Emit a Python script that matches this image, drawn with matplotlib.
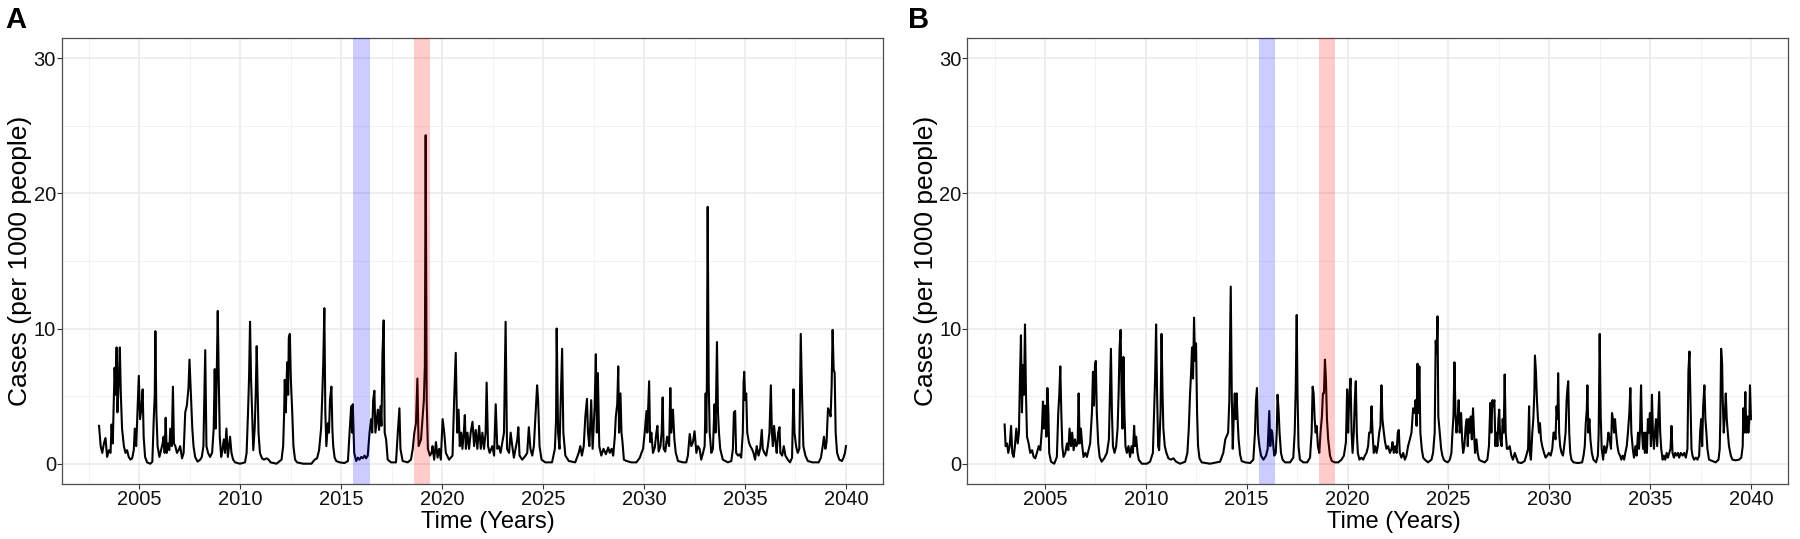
import matplotlib
matplotlib.use("Agg")
import matplotlib.pyplot as plt
from matplotlib.ticker import FixedLocator

plt.rcParams['font.family'] = ['Liberation Sans', 'DejaVu Sans']

# ---------------- data (year, cases per 1000 people) ----------------
series_a = [
    (2003.00, 2.8), (2003.08, 1.3), (2003.16, 0.8), (2003.24, 1.5), (2003.32, 1.9), (2003.40, 0.5), (2003.49, 1.0),
    (2003.57, 0.8), (2003.62, 2.9), (2003.68, 1.5), (2003.77, 7.1), (2003.82, 5.1), (2003.87, 8.6), (2003.91, 3.8),
    (2003.98, 6.3), (2004.03, 8.6), (2004.08, 5.1), (2004.14, 2.6), (2004.23, 1.3), (2004.31, 0.8), (2004.39, 1.0),
    (2004.47, 0.5), (2004.56, 0.3), (2004.64, 0.4), (2004.72, 1.0), (2004.77, 2.6), (2004.84, 1.3), (2004.90, 3.8),
    (2004.97, 6.5), (2005.03, 3.3), (2005.10, 4.1), (2005.16, 5.5), (2005.21, 2.0), (2005.28, 0.5), (2005.38, 0.1),
    (2005.54, 0.0), (2005.64, 0.15), (2005.71, 3.3), (2005.76, 5.1), (2005.79, 9.8), (2005.84, 3.8), (2005.90, 1.3),
    (2005.99, 0.5), (2006.07, 1.0), (2006.15, 1.5), (2006.20, 2.0), (2006.25, 0.8), (2006.30, 3.4), (2006.35, 0.8),
    (2006.41, 1.5), (2006.48, 1.0), (2006.53, 2.6), (2006.60, 1.3), (2006.66, 5.7), (2006.71, 1.5), (2006.78, 1.3),
    (2006.86, 0.8), (2006.94, 1.0), (2007.02, 1.3), (2007.11, 0.4), (2007.19, 0.8), (2007.27, 3.8), (2007.35, 4.3),
    (2007.43, 5.6), (2007.48, 7.7), (2007.55, 5.1), (2007.62, 2.6), (2007.68, 1.3), (2007.76, 0.5), (2007.88, 0.15),
    (2008.01, 0.3), (2008.09, 0.5), (2008.17, 1.3), (2008.26, 8.4), (2008.32, 1.3), (2008.40, 0.8), (2008.50, 0.5),
    (2008.60, 0.8), (2008.68, 2.6), (2008.73, 7.0), (2008.78, 2.6), (2008.83, 6.6), (2008.88, 11.3), (2008.93, 6.3),
    (2008.98, 2.0), (2009.05, 0.5), (2009.11, 1.0), (2009.18, 1.8), (2009.24, 0.8), (2009.31, 2.6), (2009.38, 0.5),
    (2009.44, 1.3), (2009.49, 2.0), (2009.56, 0.8), (2009.64, 0.3), (2009.74, 0.1), (2009.98, 0.0), (2010.23, 0.1),
    (2010.31, 0.8), (2010.38, 3.8), (2010.43, 6.3), (2010.48, 10.5), (2010.53, 6.3), (2010.58, 3.8), (2010.64, 1.0),
    (2010.71, 2.6), (2010.76, 5.1), (2010.81, 8.7), (2010.86, 5.1), (2010.90, 2.3), (2010.97, 0.8), (2011.07, 0.4),
    (2011.17, 0.3), (2011.30, 0.4), (2011.40, 0.3), (2011.50, 0.1), (2011.79, 0.0), (2012.04, 0.3), (2012.12, 1.3),
    (2012.17, 3.8), (2012.20, 6.2), (2012.25, 3.8), (2012.32, 7.5), (2012.37, 5.1), (2012.40, 9.3), (2012.45, 9.6),
    (2012.50, 6.3), (2012.57, 3.8), (2012.63, 1.3), (2012.71, 0.3), (2012.81, 0.1), (2013.11, 0.0), (2013.52, 0.0),
    (2013.68, 0.3), (2013.80, 0.4), (2013.90, 1.0), (2014.00, 2.6), (2014.06, 5.1), (2014.11, 7.6), (2014.16, 11.5),
    (2014.21, 3.8), (2014.26, 1.3), (2014.34, 3.0), (2014.39, 2.3), (2014.44, 4.7), (2014.51, 5.7), (2014.56, 2.5),
    (2014.60, 1.3), (2014.67, 0.45), (2014.75, 0.2), (2014.92, 0.1), (2015.16, 0.05), (2015.33, 0.2), (2015.41, 2.3),
    (2015.49, 4.25), (2015.54, 2.3), (2015.57, 4.4), (2015.64, 0.8), (2015.74, 0.2), (2015.82, 0.45), (2015.90, 0.3),
    (2015.99, 0.5), (2016.07, 0.4), (2016.15, 0.6), (2016.23, 0.4), (2016.31, 0.6), (2016.40, 2.3), (2016.48, 3.3),
    (2016.53, 2.3), (2016.58, 4.7), (2016.64, 5.4), (2016.69, 2.3), (2016.76, 3.3), (2016.81, 4.0), (2016.87, 2.5),
    (2016.94, 4.25), (2016.99, 2.8), (2017.04, 8.1), (2017.10, 10.6), (2017.15, 2.3), (2017.22, 1.8), (2017.30, 0.3),
    (2017.47, 0.1), (2017.71, 0.1), (2017.80, 2.3), (2017.88, 4.1), (2017.93, 1.1), (2018.04, 0.2), (2018.29, 0.1),
    (2018.45, 0.3), (2018.54, 1.1), (2018.62, 2.3), (2018.70, 3.0), (2018.77, 6.3), (2018.83, 1.3), (2018.95, 1.8),
    (2019.03, 3.5), (2019.09, 4.7), (2019.14, 7.2), (2019.18, 24.3), (2019.23, 4.7), (2019.29, 1.1), (2019.39, 0.6),
    (2019.47, 0.8), (2019.52, 1.3), (2019.60, 0.3), (2019.69, 1.6), (2019.77, 0.45), (2019.85, 1.1), (2019.93, 0.3),
    (2020.02, 3.3), (2020.10, 2.3), (2020.18, 0.8), (2020.34, 0.3), (2020.51, 0.6), (2020.59, 4.7), (2020.67, 8.2),
    (2020.74, 2.3), (2020.81, 4.0), (2020.87, 1.3), (2020.94, 2.3), (2021.00, 1.1), (2021.07, 2.3), (2021.12, 3.6),
    (2021.17, 1.1), (2021.25, 2.3), (2021.33, 1.1), (2021.41, 2.3), (2021.50, 3.1), (2021.58, 1.3), (2021.66, 2.5),
    (2021.74, 1.1), (2021.83, 2.8), (2021.91, 1.1), (2021.99, 2.3), (2022.07, 1.1), (2022.15, 2.3), (2022.20, 6.0),
    (2022.27, 1.3), (2022.35, 0.8), (2022.48, 1.3), (2022.57, 0.6), (2022.65, 4.4), (2022.73, 1.1), (2022.81, 1.3),
    (2022.89, 0.8), (2022.98, 1.6), (2023.06, 2.3), (2023.14, 10.5), (2023.21, 1.1), (2023.31, 0.8), (2023.39, 2.3),
    (2023.47, 1.3), (2023.55, 0.45), (2023.63, 1.1), (2023.72, 1.8), (2023.77, 2.7), (2023.83, 0.6), (2023.96, 0.3),
    (2024.13, 0.6), (2024.21, 0.8), (2024.29, 2.7), (2024.37, 1.1), (2024.46, 0.6), (2024.54, 1.3), (2024.62, 3.5),
    (2024.70, 5.8), (2024.75, 4.7), (2024.82, 1.3), (2024.92, 0.3), (2025.11, 0.1), (2025.44, 0.1), (2025.58, 1.1),
    (2025.64, 3.3), (2025.67, 10.0), (2025.74, 2.3), (2025.81, 1.1), (2025.87, 4.7), (2025.94, 8.5), (2026.00, 2.3),
    (2026.10, 0.6), (2026.27, 0.2), (2026.59, 0.1), (2026.76, 0.8), (2026.84, 1.3), (2026.92, 0.6), (2027.01, 1.3),
    (2027.09, 3.5), (2027.17, 4.8), (2027.22, 2.3), (2027.29, 1.3), (2027.38, 4.7), (2027.45, 1.1), (2027.55, 4.25),
    (2027.61, 8.1), (2027.66, 2.3), (2027.71, 6.7), (2027.78, 1.3), (2027.88, 0.6), (2027.99, 1.1), (2028.11, 0.7),
    (2028.22, 1.2), (2028.30, 0.8), (2028.39, 1.1), (2028.47, 0.6), (2028.55, 2.0), (2028.60, 3.5), (2028.67, 4.4),
    (2028.72, 7.2), (2028.76, 2.3), (2028.83, 5.2), (2028.88, 2.3), (2028.93, 1.6), (2029.00, 0.3), (2029.13, 0.2),
    (2029.37, 0.1), (2029.62, 0.1), (2029.79, 0.45), (2029.87, 0.8), (2029.95, 1.1), (2030.03, 2.3), (2030.12, 3.9),
    (2030.16, 2.3), (2030.25, 6.1), (2030.30, 1.6), (2030.36, 2.3), (2030.44, 0.8), (2030.53, 1.2), (2030.61, 2.3),
    (2030.66, 2.8), (2030.72, 0.9), (2030.81, 1.3), (2030.87, 2.3), (2030.92, 4.9), (2030.97, 1.1), (2031.05, 0.9),
    (2031.14, 2.0), (2031.24, 1.3), (2031.30, 5.6), (2031.35, 2.3), (2031.43, 4.0), (2031.50, 1.8), (2031.57, 0.8),
    (2031.68, 0.2), (2031.93, 0.1), (2032.09, 0.1), (2032.17, 0.6), (2032.26, 2.2), (2032.34, 1.3), (2032.42, 1.6),
    (2032.50, 2.4), (2032.59, 0.8), (2032.67, 1.3), (2032.75, 1.1), (2032.83, 0.3), (2032.92, 0.8), (2033.00, 1.3),
    (2033.05, 5.2), (2033.08, 2.3), (2033.11, 6.0), (2033.15, 19.0), (2033.20, 6.0), (2033.25, 2.3), (2033.33, 0.8),
    (2033.41, 1.1), (2033.49, 4.4), (2033.54, 2.3), (2033.57, 5.2), (2033.61, 9.0), (2033.66, 3.8), (2033.71, 2.3),
    (2033.77, 1.1), (2033.90, 0.3), (2034.15, 0.1), (2034.32, 0.2), (2034.40, 1.1), (2034.45, 3.8), (2034.51, 3.9),
    (2034.56, 0.8), (2034.65, 0.6), (2034.73, 0.7), (2034.81, 0.45), (2034.89, 2.3), (2034.93, 6.0), (2034.96, 6.8),
    (2035.01, 4.7), (2035.06, 5.2), (2035.11, 2.3), (2035.19, 1.6), (2035.26, 1.3), (2035.34, 1.1), (2035.42, 0.8),
    (2035.50, 0.3), (2035.58, 1.3), (2035.67, 0.6), (2035.75, 1.1), (2035.83, 2.5), (2035.88, 1.1), (2035.96, 0.8),
    (2036.05, 0.6), (2036.13, 1.3), (2036.21, 2.3), (2036.28, 5.8), (2036.33, 2.3), (2036.38, 1.3), (2036.44, 2.8),
    (2036.51, 1.6), (2036.57, 0.8), (2036.64, 2.3), (2036.71, 2.7), (2036.75, 0.8), (2036.84, 0.6), (2036.92, 1.3),
    (2037.00, 0.6), (2037.12, 0.3), (2037.23, 0.1), (2037.33, 0.45), (2037.40, 5.5), (2037.45, 2.3), (2037.53, 1.3),
    (2037.61, 0.8), (2037.69, 1.1), (2037.76, 9.6), (2037.83, 4.7), (2037.89, 1.3), (2037.99, 0.6), (2038.11, 0.2),
    (2038.35, 0.1), (2038.65, 0.1), (2038.76, 0.45), (2038.85, 1.3), (2038.91, 2.0), (2038.98, 1.1), (2039.04, 1.6),
    (2039.11, 4.1), (2039.18, 3.9), (2039.24, 3.5), (2039.29, 5.7), (2039.34, 9.9), (2039.39, 7.0), (2039.44, 6.7),
    (2039.49, 2.3), (2039.56, 0.8), (2039.67, 0.3), (2039.80, 0.2), (2039.88, 0.45), (2039.95, 0.8), (2040.00, 1.3),
]

series_b = [
    (2003.00, 2.9), (2003.05, 1.3), (2003.12, 1.5), (2003.18, 0.8), (2003.25, 1.3), (2003.32, 2.8), (2003.38, 0.8),
    (2003.45, 0.5), (2003.51, 1.3), (2003.58, 2.6), (2003.65, 1.5), (2003.71, 2.3), (2003.76, 6.3), (2003.81, 9.5),
    (2003.86, 3.8), (2003.91, 7.3), (2003.96, 5.1), (2004.01, 10.3), (2004.06, 5.1), (2004.11, 2.0), (2004.19, 1.5),
    (2004.27, 0.8), (2004.36, 1.0), (2004.44, 0.5), (2004.52, 0.4), (2004.60, 0.8), (2004.69, 1.3), (2004.77, 1.0),
    (2004.85, 2.6), (2004.90, 4.6), (2004.95, 2.6), (2005.00, 4.3), (2005.07, 2.0), (2005.12, 5.6), (2005.17, 3.8),
    (2005.21, 0.8), (2005.30, 0.15), (2005.46, 0.0), (2005.59, 0.5), (2005.66, 3.8), (2005.71, 5.1), (2005.76, 7.2),
    (2005.81, 3.8), (2005.86, 1.3), (2005.92, 0.5), (2006.01, 0.8), (2006.09, 1.5), (2006.16, 1.0), (2006.22, 2.6),
    (2006.29, 1.3), (2006.35, 2.3), (2006.42, 1.0), (2006.49, 1.8), (2006.55, 1.3), (2006.62, 1.5), (2006.67, 5.2),
    (2006.72, 1.5), (2006.78, 2.6), (2006.85, 1.3), (2006.91, 0.5), (2007.00, 0.8), (2007.08, 0.5), (2007.16, 1.0),
    (2007.24, 1.5), (2007.33, 3.8), (2007.38, 6.8), (2007.43, 4.3), (2007.48, 7.3), (2007.52, 7.6), (2007.57, 3.8),
    (2007.64, 1.5), (2007.71, 0.5), (2007.81, 0.15), (2007.94, 0.4), (2008.07, 0.8), (2008.17, 1.8), (2008.22, 5.1),
    (2008.27, 8.5), (2008.32, 3.8), (2008.37, 1.3), (2008.45, 0.8), (2008.53, 1.3), (2008.60, 2.6), (2008.65, 5.1),
    (2008.70, 8.6), (2008.75, 9.9), (2008.80, 5.1), (2008.84, 2.6), (2008.89, 7.9), (2008.94, 3.8), (2008.99, 1.3),
    (2009.06, 0.8), (2009.14, 1.3), (2009.22, 0.5), (2009.29, 1.3), (2009.36, 0.8), (2009.42, 2.8), (2009.47, 1.3),
    (2009.52, 2.0), (2009.59, 0.8), (2009.65, 0.3), (2009.80, 0.0), (2010.05, 0.0), (2010.21, 0.15), (2010.35, 0.8),
    (2010.41, 3.8), (2010.46, 6.3), (2010.51, 10.3), (2010.56, 5.1), (2010.61, 1.3), (2010.66, 1.0), (2010.73, 3.8),
    (2010.78, 9.6), (2010.83, 5.1), (2010.87, 2.6), (2010.94, 1.3), (2011.02, 0.8), (2011.12, 0.4), (2011.24, 0.3),
    (2011.37, 0.4), (2011.50, 0.15), (2011.70, 0.0), (2011.95, 0.15), (2012.06, 0.8), (2012.13, 2.6), (2012.19, 5.1),
    (2012.24, 6.6), (2012.29, 8.6), (2012.34, 6.3), (2012.39, 10.8), (2012.44, 7.6), (2012.49, 8.9), (2012.54, 3.8),
    (2012.59, 1.3), (2012.66, 0.4), (2012.77, 0.1), (2013.18, 0.0), (2013.68, 0.15), (2013.84, 0.8), (2013.94, 1.8),
    (2014.08, 2.3), (2014.14, 4.7), (2014.21, 13.1), (2014.26, 5.2), (2014.31, 1.1), (2014.36, 3.5), (2014.41, 5.2),
    (2014.46, 3.3), (2014.50, 5.2), (2014.55, 3.3), (2014.60, 1.8), (2014.67, 0.7), (2014.75, 0.2), (2014.92, 0.1),
    (2015.17, 0.05), (2015.33, 0.3), (2015.41, 2.3), (2015.46, 4.7), (2015.51, 5.6), (2015.56, 2.3), (2015.63, 1.3),
    (2015.71, 0.6), (2015.83, 0.3), (2015.96, 0.6), (2016.04, 1.1), (2016.12, 3.9), (2016.17, 1.3), (2016.22, 2.5),
    (2016.27, 2.3), (2016.32, 1.3), (2016.37, 0.6), (2016.44, 0.8), (2016.49, 2.3), (2016.53, 5.1), (2016.58, 4.0),
    (2016.63, 2.3), (2016.70, 0.8), (2016.78, 0.3), (2016.90, 0.1), (2017.15, 0.1), (2017.31, 0.45), (2017.38, 2.3),
    (2017.43, 5.5), (2017.48, 11.0), (2017.52, 5.2), (2017.57, 1.3), (2017.64, 0.3), (2017.81, 0.1), (2018.00, 0.1),
    (2018.14, 0.45), (2018.22, 2.3), (2018.27, 5.7), (2018.32, 5.2), (2018.37, 3.3), (2018.42, 2.3), (2018.47, 2.8),
    (2018.53, 1.3), (2018.60, 0.8), (2018.66, 2.3), (2018.73, 3.5), (2018.78, 5.2), (2018.83, 5.2), (2018.88, 7.7),
    (2018.93, 6.2), (2018.98, 3.3), (2019.04, 1.8), (2019.13, 0.6), (2019.22, 0.2), (2019.37, 0.1), (2019.54, 0.1),
    (2019.70, 0.3), (2019.82, 0.6), (2019.92, 1.6), (2019.98, 5.5), (2020.03, 2.3), (2020.08, 4.7), (2020.15, 6.3),
    (2020.20, 2.3), (2020.25, 0.8), (2020.31, 2.3), (2020.36, 4.7), (2020.41, 6.1), (2020.46, 2.3), (2020.51, 0.8),
    (2020.59, 0.3), (2020.69, 0.45), (2020.78, 0.3), (2020.86, 0.6), (2020.94, 0.8), (2021.02, 1.3), (2021.07, 2.3),
    (2021.14, 2.3), (2021.19, 4.25), (2021.24, 2.3), (2021.30, 0.8), (2021.37, 1.3), (2021.44, 0.8), (2021.50, 1.3),
    (2021.57, 2.3), (2021.63, 2.8), (2021.68, 5.8), (2021.73, 3.3), (2021.80, 2.3), (2021.86, 1.6), (2021.93, 1.1),
    (2022.01, 1.3), (2022.10, 0.8), (2022.18, 1.1), (2022.23, 1.6), (2022.29, 0.8), (2022.36, 1.3), (2022.43, 0.8),
    (2022.49, 2.3), (2022.54, 2.5), (2022.59, 0.8), (2022.67, 0.45), (2022.76, 0.8), (2022.84, 0.3), (2022.92, 0.6),
    (2023.00, 1.3), (2023.09, 1.8), (2023.17, 2.3), (2023.25, 4.1), (2023.32, 3.75), (2023.37, 4.7), (2023.42, 2.8),
    (2023.47, 7.4), (2023.51, 3.75), (2023.56, 7.2), (2023.61, 2.3), (2023.68, 1.1), (2023.75, 0.45), (2023.83, 0.3),
    (2023.99, 0.1), (2024.16, 0.3), (2024.24, 0.8), (2024.32, 2.3), (2024.37, 9.1), (2024.42, 8.2), (2024.46, 10.9),
    (2024.50, 3.5), (2024.57, 2.3), (2024.64, 1.1), (2024.70, 0.6), (2024.77, 0.3), (2024.83, 0.2), (2024.97, 0.1),
    (2025.07, 0.3), (2025.15, 0.8), (2025.20, 2.3), (2025.25, 3.5), (2025.30, 7.5), (2025.35, 3.75), (2025.40, 2.3),
    (2025.46, 3.3), (2025.51, 4.7), (2025.56, 2.3), (2025.63, 3.75), (2025.68, 1.8), (2025.73, 0.8), (2025.79, 1.3),
    (2025.86, 2.8), (2025.91, 3.3), (2025.96, 1.3), (2026.01, 3.3), (2026.06, 2.3), (2026.11, 3.5), (2026.16, 1.8),
    (2026.22, 4.1), (2026.27, 2.3), (2026.32, 0.8), (2026.39, 1.8), (2026.45, 0.8), (2026.52, 0.3), (2026.63, 0.2),
    (2026.80, 0.1), (2026.93, 0.3), (2027.01, 1.3), (2027.08, 4.5), (2027.13, 2.3), (2027.18, 4.7), (2027.23, 4.25),
    (2027.28, 4.7), (2027.33, 1.3), (2027.38, 2.3), (2027.43, 1.3), (2027.48, 3.3), (2027.52, 4.0), (2027.57, 1.8),
    (2027.64, 1.3), (2027.69, 3.3), (2027.74, 2.3), (2027.79, 6.6), (2027.84, 2.3), (2027.90, 1.1), (2027.96, 1.1),
    (2028.04, 1.3), (2028.12, 0.6), (2028.20, 0.3), (2028.29, 0.8), (2028.37, 0.45), (2028.45, 0.1), (2028.62, 0.05),
    (2028.78, 0.2), (2028.86, 0.6), (2028.95, 1.1), (2029.00, 4.25), (2029.04, 0.8), (2029.09, 0.3), (2029.16, 2.3),
    (2029.21, 3.3), (2029.26, 5.2), (2029.29, 8.0), (2029.34, 6.8), (2029.39, 4.7), (2029.44, 3.3), (2029.49, 2.3),
    (2029.54, 3.0), (2029.59, 1.8), (2029.65, 1.3), (2029.74, 0.8), (2029.82, 0.45), (2029.90, 0.6), (2029.98, 0.8),
    (2030.07, 0.6), (2030.15, 1.1), (2030.21, 2.3), (2030.26, 2.3), (2030.31, 1.8), (2030.36, 4.25), (2030.41, 3.3),
    (2030.44, 6.7), (2030.49, 2.3), (2030.54, 1.3), (2030.61, 0.8), (2030.68, 0.6), (2030.74, 1.3), (2030.81, 2.3),
    (2030.86, 4.7), (2030.91, 5.7), (2030.94, 6.1), (2030.99, 2.3), (2031.04, 0.8), (2031.10, 0.3), (2031.20, 0.1),
    (2031.42, 0.05), (2031.63, 0.1), (2031.70, 0.6), (2031.76, 1.3), (2031.81, 3.0), (2031.86, 4.0), (2031.89, 5.8),
    (2031.94, 2.3), (2031.99, 3.3), (2032.04, 1.8), (2032.11, 0.8), (2032.19, 0.3), (2032.32, 0.1), (2032.41, 0.6),
    (2032.45, 2.3), (2032.50, 9.6), (2032.55, 3.5), (2032.60, 1.1), (2032.67, 0.3), (2032.73, 1.3), (2032.80, 0.8),
    (2032.87, 1.3), (2032.93, 2.3), (2033.00, 1.8), (2033.06, 1.1), (2033.11, 3.75), (2033.16, 3.3), (2033.21, 2.3),
    (2033.26, 3.3), (2033.31, 2.3), (2033.38, 1.3), (2033.44, 0.8), (2033.51, 0.6), (2033.57, 0.3), (2033.64, 0.6),
    (2033.71, 0.3), (2033.77, 0.8), (2033.84, 1.3), (2033.90, 2.3), (2033.97, 3.75), (2034.02, 5.6), (2034.07, 2.3),
    (2034.14, 1.1), (2034.20, 0.45), (2034.27, 1.3), (2034.33, 0.6), (2034.40, 2.3), (2034.45, 1.1), (2034.50, 2.5),
    (2034.55, 5.8), (2034.60, 2.3), (2034.65, 1.1), (2034.70, 2.3), (2034.74, 0.8), (2034.79, 2.3), (2034.84, 0.8),
    (2034.89, 3.3), (2034.94, 2.3), (2034.99, 3.75), (2035.04, 1.3), (2035.09, 5.1), (2035.14, 2.3), (2035.19, 1.1),
    (2035.24, 2.3), (2035.29, 3.3), (2035.35, 1.3), (2035.40, 3.3), (2035.45, 5.3), (2035.50, 2.3), (2035.55, 1.1),
    (2035.62, 0.3), (2035.68, 0.6), (2035.75, 0.3), (2035.82, 0.8), (2035.88, 0.45), (2035.95, 0.8), (2036.01, 1.1),
    (2036.06, 2.8), (2036.11, 0.8), (2036.18, 0.45), (2036.24, 0.8), (2036.31, 0.6), (2036.38, 0.8), (2036.44, 0.45),
    (2036.52, 0.8), (2036.61, 0.6), (2036.69, 0.8), (2036.77, 0.45), (2036.85, 1.1), (2036.90, 6.9), (2036.95, 8.3),
    (2037.00, 4.7), (2037.05, 1.1), (2037.10, 0.6), (2037.18, 0.3), (2037.27, 0.45), (2037.35, 0.3), (2037.43, 0.6),
    (2037.48, 2.3), (2037.53, 3.3), (2037.58, 1.3), (2037.63, 4.25), (2037.69, 5.8), (2037.74, 3.3), (2037.79, 2.3),
    (2037.84, 1.1), (2037.92, 0.3), (2038.09, 0.2), (2038.25, 0.1), (2038.39, 0.3), (2038.45, 1.1), (2038.48, 3.3),
    (2038.52, 8.5), (2038.57, 7.4), (2038.60, 4.7), (2038.65, 2.3), (2038.70, 3.5), (2038.75, 5.2), (2038.80, 3.3),
    (2038.85, 2.3), (2038.91, 1.3), (2039.00, 0.6), (2039.08, 0.3), (2039.24, 0.25), (2039.41, 0.3), (2039.52, 0.45),
    (2039.59, 1.3), (2039.62, 4.1), (2039.67, 2.3), (2039.72, 5.3), (2039.77, 2.3), (2039.82, 3.5), (2039.87, 2.3),
    (2039.92, 3.3), (2039.95, 5.8), (2040.00, 3.3),
]

panel_labels = ["A", "B"]
x_major = [2005, 2010, 2015, 2020, 2025, 2030, 2035, 2040]
x_minor = [2002.5, 2007.5, 2012.5, 2017.5, 2022.5, 2027.5, 2032.5, 2037.5]
y_major = [0, 10, 20, 30]
y_minor = [5, 15, 25]
blue_window = (2015.6, 2016.4)
red_window = (2018.6, 2019.4)
x_title = "Time (Years)"
y_title = "Cases (per 1000 people)"

# ---------------- figure ----------------
fig = plt.figure(figsize=(18, 5.39), dpi=100)
positions = [
    [61.7 / 1800, 1 - 484 / 539, (883.3 - 61.7) / 1800, (484 - 37.8) / 539],
    [967.3 / 1800, 1 - 484 / 539, (1788.3 - 967.3) / 1800, (484 - 37.8) / 539],
]
label_x = [5 / 1800, 908 / 1800]

for series, pos, lab, lx in zip([series_a, series_b], positions, panel_labels, label_x):
    ax = fig.add_axes(pos)
    t, v = zip(*series)
    ax.plot(t, v, color="black", lw=1.5, zorder=3)
    ax.axvspan(*blue_window, color="#0000FF", alpha=0.2, lw=0, zorder=4)
    ax.axvspan(*red_window, color="#FF0000", alpha=0.2, lw=0, zorder=4)

    ax.set_xlim(2001.15, 2041.85)
    ax.set_ylim(-1.5, 31.5)
    ax.xaxis.set_major_locator(FixedLocator(x_major))
    ax.xaxis.set_minor_locator(FixedLocator(x_minor))
    ax.yaxis.set_major_locator(FixedLocator(y_major))
    ax.yaxis.set_minor_locator(FixedLocator(y_minor))
    ax.grid(which="major", color="#EBEBEB", lw=1.2, zorder=0)
    ax.grid(which="minor", color="#F2F2F2", lw=0.7, zorder=0)
    ax.set_axisbelow(True)

    for s in ax.spines.values():
        s.set_color("#4D4D4D")
        s.set_linewidth(0.9)
    ax.tick_params(which="major", length=3.3, width=0.8, color="#333333",
                   labelsize=14.5, labelcolor="#111111", pad=0.8)
    ax.tick_params(which="minor", length=0)

    ax.set_xlabel(x_title, fontsize=17, labelpad=2)
    ax.set_ylabel(y_title, fontsize=19, labelpad=1)
    ax.xaxis.label.set_x(0.519)

    fig.text(lx, 1 - 6 / 539, lab, fontsize=21, fontweight="bold", va="top", ha="left")

fig.savefig("out.png", dpi=100)
